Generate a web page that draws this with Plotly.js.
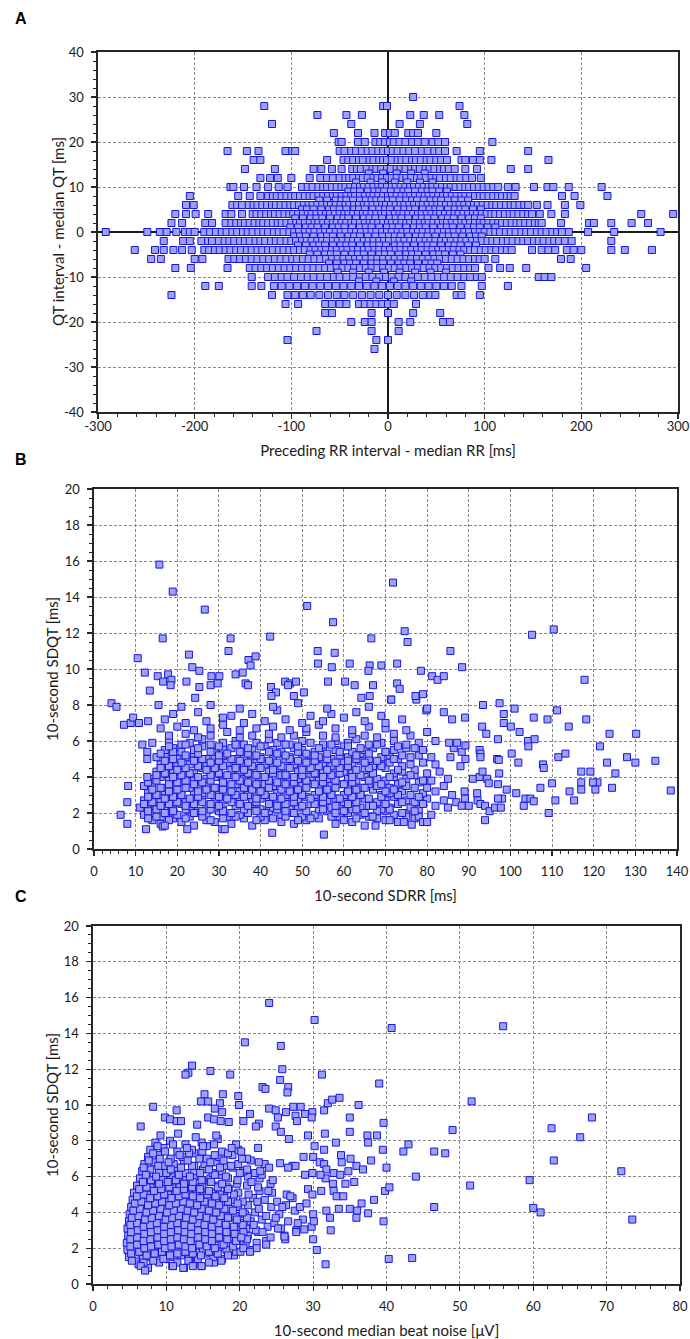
<!DOCTYPE html>
<html>
<head>
<meta charset="utf-8">
<script src="https://cdn.plot.ly/plotly-3.0.1.min.js"></script>
<style>html,body{margin:0;padding:0;background:#fff}#chart{width:690px;height:1339px}</style>
</head>
<body>
<div id="chart"></div>
<script>
// ---------- Panel A: QT deviation (rows of equal QT deviation) vs preceding RR deviation ----------
const qtLevelsA = [30,28,26,24,22,20,18,16,14,13,12,11,10,9,8,7,6,5,4,3,2,1,0,-1,-2,-3,-4,-5,-6,-7,-8,-9,-10,-11,-12,-14,-16,-18,-20,-22,-24,-26];
const rrRowsA = [
 [26],
 [-128,-5,-1,74],
 [-73,-43,-27,23,37,53,79],
 [-120,-38,12,33,82],
 [-56,-31,-14,-3,2,7,21,26,31,50],
 [-51,-48,-31,-24,-13,-8,-3,2,6,12,18,25,31,38,46,52,59,108],
 [-166,-146,-134,-106,-99,-96,-50,-45,-38,-33,-27,-21,-16,-10,-5,0,5,10,16,22,28,35,41,48,53,59,71,95,145],
 [-139,-132,-63,-46,-41,-36,-30,-26,-19,-15,-9,-5,-1,4,10,14,19,25,29,34,40,44,50,55,61,76,80,88,95,107,166],
 [-148,-117,-77,-69,-58,-48,-37,-32,-28,-22,-16,-12,-7,-1,3,9,13,18,24,28,33,39,43,48,54,58,63,69,80,92,127,145],
 [-20,-5,9,24,38],
 [-132,-122,-114,-100,-81,-70,-63,-57,-50,-44,-40,-36,-30,-26,-21,-15,-11,-6,-1,4,9,15,19,24,30,34,39,45,50,54,60,65,71,75,81,87,96],
 [-33,-18,-6,7,20,33,46],
 [-163,-160,-149,-136,-124,-113,-104,-89,-83,-78,-72,-67,-63,-58,-53,-48,-44,-39,-34,-29,-25,-20,-15,-10,-6,-1,4,8,13,18,23,27,32,37,42,46,51,56,61,65,70,75,80,84,89,94,99,104,109,114,124,132,151,165,171,187,221],
 [-41,-35,-29,-21,-14,-9,-4,3,10,16,21,28,35,41,46,53,61],
 [-205,-155,-143,-132,-124,-119,-115,-110,-105,-100,-96,-91,-86,-81,-77,-72,-67,-62,-57,-53,-48,-43,-38,-34,-29,-24,-19,-15,-10,-5,0,4,9,14,19,23,28,33,38,42,47,52,57,61,66,71,76,80,85,90,95,99,104,109,114,118,123,127,131,180,193,227],
 [-71,-63,-54,-48,-43,-36,-29,-23,-17,-12,-7,0,5,12,19,25,30,37,44,50,55,62,69,76,83],
 [-209,-201,-161,-156,-151,-144,-139,-135,-130,-125,-120,-116,-111,-106,-101,-97,-92,-87,-82,-78,-73,-68,-63,-59,-54,-49,-44,-40,-35,-30,-25,-21,-16,-11,-6,-2,3,8,13,17,22,27,32,36,41,46,51,55,60,65,70,74,79,84,89,93,98,103,108,112,117,122,127,131,136,141,145,154,165,183,199],
 [-89,-84,-77,-69,-61,-56,-50,-43,-35,-30,-24,-16,-9,-3,2,10,17,23,28,36,43,49,54,62,69,75,80,88,96],
 [-220,-209,-199,-186,-168,-162,-151,-140,-136,-131,-126,-121,-117,-112,-107,-102,-98,-93,-88,-83,-79,-74,-69,-64,-60,-55,-50,-45,-41,-36,-31,-26,-22,-17,-12,-7,-3,2,7,12,16,21,26,31,35,40,45,50,54,59,64,69,73,78,83,88,92,97,102,107,111,116,121,126,130,135,140,145,149,157,169,183,262,295],
 [-96,-88,-80,-74,-68,-60,-52,-46,-41,-33,-25,-19,-13,-6,2,8,14,21,29,35,41,48,56,62,68,76,84,90,96],
 [-224,-213,-189,-182,-168,-162,-157,-152,-148,-143,-138,-133,-129,-124,-119,-114,-110,-105,-100,-95,-91,-86,-81,-76,-72,-67,-62,-57,-53,-48,-43,-38,-34,-29,-24,-19,-15,-10,-5,0,4,9,14,19,23,28,33,38,42,47,52,57,61,66,71,76,80,85,90,95,99,104,109,114,118,123,128,133,137,142,147,152,156,159,179,208,213,231,252,269],
 [-101,-93,-85,-79,-73,-65,-57,-51,-45,-37,-29,-23,-17,-9,-1,5,11,19,27,33,39,47,55,61,67,75,83,89,95,103,111],
 [-292,-249,-236,-229,-219,-210,-205,-200,-190,-184,-178,-172,-167,-161,-156,-150,-145,-140,-134,-129,-124,-118,-113,-108,-102,-97,-92,-86,-81,-76,-70,-65,-60,-54,-49,-44,-38,-33,-28,-22,-17,-12,-6,-1,4,10,15,20,26,31,36,42,47,52,58,63,68,74,79,84,90,95,100,106,111,116,122,127,132,138,143,148,154,159,164,170,175,180,187,207,234,282],
 [-97,-91,-85,-77,-69,-63,-57,-49,-41,-35,-29,-21,-13,-6,1,7,13,21,29,35,41,49,57,63,69,77,85,91,97],
 [-232,-212,-205,-193,-186,-182,-175,-169,-164,-159,-153,-148,-143,-137,-132,-127,-121,-116,-111,-105,-100,-95,-89,-84,-79,-73,-68,-63,-57,-52,-47,-41,-36,-31,-25,-20,-15,-9,-4,1,7,12,17,23,28,33,39,44,49,55,60,65,71,76,81,87,92,97,103,108,113,119,124,129,135,140,145,151,156,161,167,172,177,183,190,231],
 [-93,-85,-77,-71,-65,-57,-49,-43,-37,-29,-21,-15,-9,-2,7,13,19,27,35,41,47,55,63,69,75,83,91],
 [-262,-241,-232,-222,-213,-203,-190,-185,-179,-174,-168,-163,-157,-152,-146,-141,-135,-130,-124,-119,-113,-108,-102,-97,-91,-86,-80,-75,-69,-64,-58,-53,-47,-42,-36,-31,-25,-20,-14,-9,-3,2,8,13,19,24,30,35,41,46,52,57,63,68,74,79,85,90,96,101,107,112,118,123,128,149,159,166,173,185,192,200,231,245,273],
 [-81,-73,-65,-59,-53,-45,-37,-31,-25,-17,-9,-3,3,11,19,25,31,39,47,53,59,67,75],
 [-245,-235,-200,-192,-165,-159,-153,-147,-141,-135,-129,-123,-117,-111,-105,-99,-94,-88,-82,-76,-70,-64,-58,-52,-46,-40,-34,-29,-23,-17,-11,-5,1,7,13,19,24,30,36,42,48,54,60,66,72,78,84,90,95,100,111,179,189],
 [-61,-53,-45,-39,-33,-25,-17,-11,-5,3,11,17,23,31,39,45,51],
 [-220,-204,-166,-143,-137,-131,-125,-119,-113,-107,-101,-95,-89,-83,-77,-71,-65,-59,-53,-47,-41,-35,-29,-23,-17,-11,-5,1,7,13,19,25,31,37,43,49,55,61,67,73,79,85,90,104,116,126,143,205],
 [-52,-36,-20,-4,12,28,44,60],
 [-141,-124,-117,-110,-104,-97,-90,-83,-77,-70,-63,-56,-50,-43,-36,-29,-23,-16,-9,-2,4,11,18,25,31,38,45,52,58,65,72,79,85,92,97,156,162,169],
 [-30,-12,6,24],
 [-189,-175,-141,-131,-118,-110,-102,-94,-86,-78,-70,-62,-54,-46,-38,-30,-22,-14,-6,2,10,18,26,34,42,50,58,66,76,97,124],
 [-224,-120,-104,-96,-88,-80,-71,-62,-53,-45,-36,-27,-18,-9,0,9,18,27,36,44,49,71,76,95],
 [-106,-93,-65,-58,-50,-43,-30,-24,-18,-12,-6,0,6,29],
 [-65,-58,-17,0,26,54],
 [-38,-24,-17,11,23,57,64],
 [-74,-17,11],
 [-104,-12,0],
 [-14]
];
const rrTicksA = [-300,-200,-100,0,100,200,300];
const rrTickTextA = ['-300','-200','-100','0','100','200','300'];
const qtTicksA = [-40,-30,-20,-10,0,10,20,30,40];
const qtTickTextA = ['-40','-30','-20','-10','0','10','20','30','40'];

// ---------- Panel B: 10-second SDQT vs 10-second SDRR ----------
const sdrrB = [
 14,16,19,21,24,27,29,33,36,38,41,45,48,51,54,58,62,65,70,73,77,
 12,14,16,18,20,23,25,27,30,32,35,37,40,42,45,47,50,53,56,59,61,64,67,70,72,75,78,81,
 11,13,15,17,19,21,23,25,27,29,31,34,36,38,40,43,45,47,49,52,54,57,59,62,64,66,69,71,73,76,78,82,85,
 12,14,16,18,20,22,24,26,29,31,33,35,38,40,42,44,46,49,51,53,56,58,60,63,65,68,70,72,75,77,80,84,87,
 13,15,17,19,21,24,26,28,30,32,35,37,39,41,44,46,48,50,53,55,57,60,62,64,67,69,71,74,76,79,82,86,
 12,14,17,19,21,23,25,27,30,32,34,36,38,41,43,45,47,50,52,54,57,59,61,64,66,68,71,73,75,78,80,84,
 14,16,18,20,22,24,27,29,31,33,36,38,40,42,45,47,49,52,54,56,58,61,63,65,68,70,72,75,77,81,85,
 15,17,19,21,24,26,28,30,33,35,37,39,42,44,46,49,51,53,55,58,60,62,65,67,70,72,74,77,80,83,
 16,18,20,23,25,27,29,32,34,36,39,41,43,46,48,50,52,55,57,60,62,64,67,69,71,74,76,79,82,
 15,17,20,22,24,27,29,31,34,36,38,40,43,45,47,50,52,54,57,59,61,64,66,69,71,73,76,78,81,
 17,19,21,24,26,29,31,33,36,38,41,43,45,48,50,53,55,58,60,62,65,67,70,72,75,79,
 14,18,21,23,26,28,31,34,36,39,42,44,47,50,52,55,58,61,63,66,69,72,75,78,82,
 18,22,25,28,32,35,38,42,45,48,51,55,58,62,65,68,72,76,80,
 16,20,24,28,31,35,39,43,47,51,54,58,62,66,70,75,
 13,17,22,27,31,36,41,46,50,55,60,65,70,74,
 19,25,33,38,44,52,57,63,69,
 21,28,35,43,49,56,66,
 13,15,18,22,26,28,31,34,39,43,46,49,52,57,60,63,66,68,71,75,
 13,15,17,19,22,24,26,28,31,33,36,39,41,44,46,48,51,55,58,60,63,65,68,71,74,77,
 12,14,16,18,20,22,24,26,28,30,33,35,37,39,42,44,46,48,50,53,55,58,61,63,67,70,74,79,
 13,15,17,19,21,23,25,28,30,32,34,36,39,41,43,45,48,50,52,55,57,59,62,64,66,69,73,78,
 14,16,18,20,22,25,27,29,31,33,36,38,40,42,45,47,49,51,54,56,58,61,63,65,70,72,77,
 13,15,18,20,22,24,26,28,31,33,35,37,39,42,44,46,48,51,53,55,58,60,62,66,69,74,79,
 15,17,19,21,23,25,28,30,32,34,37,39,41,43,46,48,50,53,55,57,59,62,64,67,71,76,
 16,18,20,22,25,27,29,31,34,36,38,40,43,45,47,50,52,54,56,59,61,63,66,69,73,
 17,19,21,24,26,28,30,33,35,37,40,42,44,47,49,51,53,56,58,61,63,65,68,72,
 16,19,22,25,28,30,32,35,37,39,42,44,46,49,51,53,56,59,63,66,70,74,
 18,22,25,30,34,37,40,46,49,54,57,61,64,68,73,77,
 15.7,18.9,26.6,16.5,32.8,42.3,51.2,57.4,66.6,71.8,
 10.5,22.8,32.3,23.6,25.3,37.1,37.6,38.8,53.7,57.8,
 53.8,57.1,61.4,66.2,65.9,69,12.2,15.3,17.8,16.6,
 18.6,18.4,13.4,22.2,25.3,24.3,28.2,30.1,28,29.7,
 34,35.7,36.4,37,42.5,43.7,42.6,45.9,47.1,48.5,
 46.6,48,50.4,56.2,60.3,62.6,67,64.2,66.2,71.3,
 4.2,5.4,15.5,7.2,8.8,9.4,10.8,11.6,12.8,12.8,
 8.2,8,6.4,8,12.5,12.8,55.2,42.8,30.8,31.4,
 22.4,16.5,17,67.6,66.9,74.4,76.3,79,80,74.6,
 75.3,85.6,72.8,78.5,81.2,82.5,84,88.4,105.2,110.4,
 117.8,72.8,73.4,77.4,79,77.2,71.4,79.8,80,84,
 86,89.1,93.4,97.4,98.4,98.4,101,100.1,102.2,105.6,
 108.9,111.2,114,118.2,93.2,94.2,97,104.2,105.8,104.3,
 100.3,101.9,111.5,113.2,107.8,108,117,119.2,117,120.9,
 119.8,121.5,123.8,125.2,128,130,130.2,134.8,123.2,124.4,
 120.4,138.5,117,114.2,115.3,107.2,110,110.8,109.2,103.2,
 103.6,104.8,105.6,101.4,99.1,91,92.6,93.3,94.4,94.8,
 97,97.3,92,92.1,92.8,93.9,95,96.3,97.7,98,
 97,93.9,89,89.1,90,88.3,85.6,86.4,88,89.2,
 88.3,89.2,92.6,92.8,92.8,96.8,97.2,85.3,87.2
];
const sdqtB = [
 1.6,1.4,1.7,1.5,1.3,1.6,1.5,1.4,1.7,1.3,1.6,1.5,1.4,1.6,1.7,1.4,1.5,1.3,1.6,1.5,1.7,
 1.9,2.0,1.8,2.1,1.9,1.8,2.0,1.9,2.1,1.8,1.9,2.0,1.8,2.1,1.9,2.0,1.8,1.9,2.1,1.8,2.0,1.9,1.8,2.1,1.9,2.0,1.8,1.9,
 2.3,2.2,2.4,2.3,2.2,2.5,2.3,2.1,2.4,2.3,2.2,2.4,2.3,2.5,2.2,2.3,2.4,2.2,2.3,2.5,2.2,2.3,2.4,2.2,2.3,2.4,2.2,2.3,2.5,2.3,2.2,2.4,2.3,
 2.7,2.8,2.6,2.7,2.9,2.6,2.7,2.8,2.6,2.7,2.9,2.7,2.6,2.8,2.7,2.6,2.8,2.7,2.9,2.6,2.7,2.8,2.6,2.7,2.8,2.6,2.7,2.9,2.7,2.6,2.8,2.7,2.6,
 3.1,3.0,3.2,3.1,3.0,3.2,3.1,3.3,3.0,3.1,3.2,3.0,3.1,3.3,3.1,3.0,3.2,3.1,3.0,3.2,3.1,3.0,3.2,3.1,3.3,3.0,3.1,3.2,3.0,3.1,3.2,3.0,
 3.5,3.6,3.4,3.5,3.7,3.4,3.5,3.6,3.4,3.5,3.6,3.5,3.4,3.6,3.5,3.7,3.4,3.5,3.6,3.4,3.5,3.6,3.5,3.4,3.6,3.5,3.4,3.6,3.5,3.7,3.4,3.5,
 3.9,4.0,3.8,3.9,4.1,3.8,3.9,4.0,3.8,4.1,3.9,3.8,4.0,3.9,4.1,3.8,3.9,4.0,3.8,3.9,4.1,3.9,3.8,4.0,3.9,3.8,4.0,3.9,4.1,3.8,3.9,
 4.3,4.2,4.4,4.3,4.2,4.5,4.3,4.2,4.4,4.3,4.2,4.4,4.3,4.5,4.2,4.3,4.4,4.2,4.3,4.4,4.3,4.2,4.4,4.3,4.5,4.2,4.3,4.4,4.2,4.3,
 4.7,4.8,4.6,4.7,4.9,4.6,4.7,4.8,4.6,4.7,4.8,4.7,4.6,4.9,4.7,4.6,4.8,4.7,4.6,4.8,4.7,4.9,4.6,4.7,4.8,4.6,4.7,4.8,4.7,
 5.1,5.2,5.0,5.1,5.3,5.0,5.1,5.2,5.0,5.1,5.2,5.1,5.0,5.3,5.1,5.0,5.2,5.1,5.0,5.2,5.1,5.3,5.0,5.1,5.2,5.0,5.1,5.2,5.1,
 5.5,5.6,5.4,5.5,5.7,5.4,5.5,5.6,5.4,5.5,5.7,5.5,5.4,5.6,5.5,5.4,5.6,5.5,5.7,5.4,5.5,5.6,5.4,5.5,5.6,5.5,
 5.9,6.0,5.8,5.9,6.1,5.8,5.9,6.0,5.8,5.9,6.1,5.9,5.8,6.0,5.9,5.8,6.0,5.9,6.1,5.8,5.9,6.0,5.8,5.9,6.0,
 6.3,6.4,6.2,6.3,6.5,6.2,6.3,6.4,6.2,6.3,6.5,6.3,6.2,6.4,6.3,6.2,6.4,6.3,6.5,
 6.7,6.8,6.6,6.7,6.9,6.6,6.7,6.8,6.6,6.7,6.9,6.7,6.6,6.8,6.7,6.6,
 7.1,7.2,7.0,7.1,7.3,7.0,7.1,7.2,7.0,7.1,7.3,7.1,7.0,7.2,
 7.5,7.6,7.4,7.5,7.7,7.4,7.5,7.6,7.4,
 7.9,8.0,7.8,7.9,8.1,7.8,7.9,
 1.7,1.8,1.6,1.7,1.8,1.6,1.7,1.8,1.6,1.7,1.8,1.6,1.7,1.8,1.6,1.7,1.8,1.7,1.6,1.8,
 2.1,2.2,2.0,2.1,2.2,2.0,2.1,2.2,2.1,2.0,2.2,2.1,2.0,2.2,2.1,2.0,2.1,2.2,2.0,2.1,2.2,2.0,2.1,2.2,2.0,2.1,
 2.5,2.6,2.4,2.5,2.6,2.4,2.5,2.6,2.5,2.4,2.6,2.5,2.4,2.6,2.5,2.4,2.5,2.6,2.4,2.5,2.6,2.4,2.5,2.6,2.4,2.5,2.6,2.5,
 2.9,3.0,2.8,2.9,3.0,2.8,2.9,3.0,2.9,2.8,3.0,2.9,2.8,3.0,2.9,2.8,2.9,3.0,2.8,2.9,3.0,2.8,2.9,3.0,2.8,2.9,3.0,2.9,
 3.3,3.4,3.2,3.3,3.4,3.2,3.3,3.4,3.3,3.2,3.4,3.3,3.2,3.4,3.3,3.2,3.3,3.4,3.2,3.3,3.4,3.2,3.3,3.4,3.2,3.3,3.4,
 3.7,3.8,3.6,3.7,3.8,3.6,3.7,3.8,3.7,3.6,3.8,3.7,3.6,3.8,3.7,3.6,3.7,3.8,3.6,3.7,3.8,3.6,3.7,3.8,3.6,3.7,3.8,
 4.1,4.2,4.0,4.1,4.2,4.0,4.1,4.2,4.1,4.0,4.2,4.1,4.0,4.2,4.1,4.0,4.1,4.2,4.0,4.1,4.2,4.0,4.1,4.2,4.0,4.1,
 4.5,4.6,4.4,4.5,4.6,4.4,4.5,4.6,4.5,4.4,4.6,4.5,4.4,4.6,4.5,4.4,4.5,4.6,4.4,4.5,4.6,4.4,4.5,4.6,4.4,
 4.9,5.0,4.8,4.9,5.0,4.8,4.9,5.0,4.9,4.8,5.0,4.9,4.8,5.0,4.9,4.8,4.9,5.0,4.8,4.9,5.0,4.8,4.9,5.0,
 5.3,5.4,5.2,5.3,5.4,5.2,5.3,5.4,5.3,5.2,5.4,5.3,5.2,5.4,5.3,5.2,5.3,5.4,5.2,5.3,5.4,5.2,
 5.7,5.8,5.6,5.7,5.8,5.6,5.7,5.8,5.7,5.6,5.8,5.7,5.6,5.8,5.7,5.6,
 15.8,14.3,13.3,11.7,11.7,11.8,13.5,12.6,11.7,14.8,
 10.6,10.8,11.0,10.1,9.9,10.5,10.2,10.7,11.0,10.9,
 10.3,10.1,10.3,10.2,9.9,10.2,9.8,9.6,9.7,9.3,
 9.4,9.1,8.8,9.3,9.0,8.4,9.6,9.6,9.1,9.2,
 9.7,9.8,9.2,9.1,9.0,8.7,8.5,9.3,9.2,9.3,
 9.1,8.5,8.7,9.3,9.3,9.1,9.1,8.4,8.5,8.3,
 8.1,7.9,8.0,6.9,7.0,7.3,7.0,5.8,5.4,5.0,
 3.5,2.6,1.9,1.4,1.1,4.0,0.8,0.9,1.1,1.1,
 1.1,1.25,1.3,1.3,1.8,1.5,1.35,1.5,1.5,12.1,
 11.5,11.0,10.3,9.9,9.6,9.4,9.6,10.1,11.9,12.2,
 9.4,9.2,8.9,8.3,8.6,8.5,8.3,7.7,7.8,7.6,
 7.2,7.3,8.0,8.1,7.5,7.0,7.8,6.8,6.5,7.3,
 7.2,7.7,6.8,7.2,6.8,6.4,6.1,6.0,6.1,5.7,
 5.3,4.8,5.1,5.3,4.7,4.5,4.3,4.3,3.7,3.7,
 3.7,5.7,6.4,4.2,5.1,4.8,6.4,4.9,4.8,3.4,
 3.3,3.25,3.3,3.2,2.7,3.4,3.65,2.7,2.0,2.4,
 2.8,2.8,2.65,3.1,3.3,3.9,4.0,4.3,3.9,3.65,
 3.6,4.2,3.1,2.7,2.5,2.4,2.1,2.3,2.3,2.8,
 2.8,1.6,3.2,2.8,2.4,2.4,5.1,5.6,4.6,5.0,
 5.4,5.75,5.5,5.3,5.1,5.0,4.95,5.9,5.9
];

// ---------- Panel C: 10-second SDQT vs 10-second median beat noise ----------
const noiseC = [
 6.2,7.5,9,10.8,12.4,13.7,14.8,16.5,
 4.9,5.8,6.8,7.9,8.9,9.9,11,12,13.1,14.2,15.3,16.4,17.6,19.2,
 4.7,5.6,6.5,7.4,8.4,9.3,10.2,11.2,12.1,13,14,15,16,17.1,18.2,19.5,21.4,
 4.6,5.5,6.4,7.3,8.2,9.1,10,10.9,11.8,12.8,13.7,14.6,15.6,16.5,17.5,18.5,19.6,20.8,22.3,23.6,
 4.8,5.7,6.6,7.5,8.4,9.3,10.2,11.1,12,13,13.9,14.8,15.8,16.7,17.7,18.8,19.9,21.1,22.5,24.2,26.1,
 4.7,5.6,6.5,7.4,8.3,9.2,10.1,11,12,12.9,13.8,14.7,15.7,16.6,17.6,18.6,19.7,20.9,22.2,23.8,25.6,27.7,
 4.9,5.8,6.7,7.6,8.5,9.4,10.3,11.2,12.1,13.1,14,14.9,15.9,16.9,17.9,19,20.2,21.5,23,24.7,26.6,28.6,
 5,5.9,6.8,7.7,8.6,9.5,10.4,11.3,12.3,13.2,14.1,15.1,16.1,17.1,18.2,19.4,20.7,22.1,23.6,25.4,27.5,30,
 5.2,6.1,7,7.9,8.8,9.7,10.6,11.5,12.5,13.4,14.4,15.4,16.4,17.5,18.6,19.8,21.1,22.6,24.3,26.3,28.2,
 5.4,6.3,7.2,8.1,9,9.9,10.9,11.8,12.8,13.7,14.7,15.7,16.8,17.9,19.1,20.4,21.8,23.4,25.1,27.2,
 5.6,6.5,7.4,8.3,9.3,10.2,11.2,12.1,13.1,14.1,15.1,16.2,17.3,18.5,19.8,21.2,22.7,24.4,26.4,
 6,6.9,7.9,8.8,9.8,10.8,11.8,12.8,13.8,14.9,16,17.1,18.3,19.6,21,22.5,24.2,
 6.4,7.4,8.5,9.5,10.6,11.6,12.7,13.8,14.9,16,17.2,18.4,19.7,21.1,22.7,24.5,
 6.7,7.8,9,10.2,11.4,12.6,13.8,15,16.3,17.6,19,20.5,22.1,
 7,8.3,9.6,11,12.4,13.8,15.2,16.7,18.2,19.8,21.5,23.4,
 7.5,9,10.6,12.2,13.8,15.5,17.2,19,21,
 7.8,9.6,11.5,13.5,15.5,17.6,19.8,22.5,
 8.5,10.5,12.6,14.8,17,19.5,
 9.2,11.6,14,16.8,
 5.3,6.9,8.2,9.6,11.5,13,14.3,15.8,17.5,
 5.2,6.3,7.3,8.4,9.4,10.5,11.5,12.6,13.6,14.7,15.8,17,18.4,20.1,
 5.1,6,7,7.9,8.9,9.8,10.7,11.7,12.6,13.5,14.5,15.5,16.6,17.8,19.1,20.5,
 5.1,6,6.9,7.8,8.8,9.7,10.6,11.5,12.4,13.3,14.3,15.3,16.2,17.2,18.3,19.5,21,
 5.2,6.1,7,7.9,8.8,9.7,10.6,11.6,12.5,13.4,14.3,15.3,16.2,17.2,18.2,19.3,20.5,
 5.1,6,6.9,7.8,8.7,9.7,10.6,11.5,12.5,13.4,14.3,15.2,16.2,17.1,18.1,19.2,20.4,
 5.3,6.2,7.1,8,9,9.9,10.8,11.7,12.7,13.6,14.5,15.5,16.4,17.4,18.4,19.6,21,
 5.5,6.4,7.3,8.2,9.2,10.1,11,12,12.9,13.8,14.8,15.8,16.8,17.9,19.1,20.4,
 5.7,6.6,7.5,8.5,9.4,10.4,11.3,12.3,13.2,14.2,15.2,16.2,17.2,18.4,19.7,
 6,6.9,7.8,8.8,9.7,10.7,11.7,12.6,13.6,14.6,15.6,16.7,17.9,19.2,
 6.3,7.3,8.3,9.3,10.4,11.4,12.4,13.5,14.6,15.8,17,18.4,
 6.8,7.9,9,10.2,11.3,12.4,13.6,14.8,16.1,17.6,
 7.2,8.6,10,11.7,13.2,14.6,16.6,18.1,20,23,
 6.9,8.9,10.6,12,13.5,15.8,17.3,18.8,21,24,
 7.6,9.1,10.3,12.9,14.5,16,17.8,20.3,22.6,
 8.2,9.8,11.8,13.1,14.9,16.6,18.4,20.2,
 8.8,10.9,12.8,15,16.5,18.9,
 20.2,21.9,23.1,24.9,22.4,25.8,21.6,23.9,26.9,22.8,25.2,27.9,
 24,30.2,40.7,55.9,20.7,25.6,25.8,25.5,31.2,39,
 13.5,13,12.6,16,18.7,23.1,23.5,26.6,26.5,15.2,
 14.7,15.7,17.3,17.7,16.6,17.6,19.8,19.9,8.2,11.4,
 6.5,9.8,10.5,11.4,12,14.2,15.7,16.5,17.4,18.5,
 20.5,21.4,22.6,22.2,24,24.9,25.2,26.3,27.3,28.3,
 29.9,27.6,27.8,28.9,29.8,31.5,32,32.6,33.6,36.2,
 35,39.6,24.9,25.6,26.7,29.3,31.6,33.1,35,37.4,
 37.5,38.7,39.5,40,30.2,31.5,33.8,35.1,28.7,30,
 30.9,31.5,33.9,35.9,36.8,37.9,31.8,32.8,33.7,34.8,
 35.6,31.7,32.7,34.4,32.8,33.2,34.1,31.1,29.3,29.9,
 29.1,36.6,35,36,35.9,37.5,38.3,39.6,39.8,40.4,
 31.8,33.5,32.3,32.4,30,30.5,40.3,31.7,26.2,26.1,
 27.7,28.8,29.8,30.1,22.3,21.4,23.6,31,29.9,28.9,
 27.2,27.6,26.6,25.5,51.6,49,46.5,48,43,42.3,
 51.4,46.5,44,43.5,59.5,60,61,62.5,62.8,66.4,
 68,72,73.5,6.5,7.1,10.9,12.3,13.6,14.8
];
const sdqtC = [
 1.1,0.9,1.2,1.0,0.9,1.1,1.0,1.2,
 1.5,1.6,1.4,1.5,1.7,1.4,1.5,1.6,1.4,1.5,1.7,1.5,1.4,1.6,
 1.9,2.0,1.8,1.9,2.1,1.8,1.9,2.0,1.8,1.9,2.1,1.9,1.8,2.0,1.9,1.8,1.9,
 2.3,2.2,2.4,2.3,2.2,2.5,2.3,2.2,2.4,2.3,2.2,2.4,2.3,2.5,2.2,2.3,2.4,2.2,2.3,2.4,
 2.7,2.8,2.6,2.7,2.9,2.6,2.7,2.8,2.6,2.7,2.9,2.7,2.6,2.8,2.7,2.6,2.8,2.7,2.9,2.6,2.7,
 3.1,3.0,3.2,3.1,3.0,3.2,3.1,3.3,3.0,3.1,3.2,3.0,3.1,3.3,3.1,3.0,3.2,3.1,3.0,3.2,3.1,3.0,
 3.5,3.6,3.4,3.5,3.7,3.4,3.5,3.6,3.4,3.5,3.6,3.5,3.4,3.6,3.5,3.7,3.4,3.5,3.6,3.4,3.5,3.6,
 3.9,4.0,3.8,3.9,4.1,3.8,3.9,4.0,3.8,4.1,3.9,3.8,4.0,3.9,4.1,3.8,3.9,4.0,3.8,3.9,4.1,3.9,
 4.3,4.2,4.4,4.3,4.2,4.5,4.3,4.2,4.4,4.3,4.2,4.4,4.3,4.5,4.2,4.3,4.4,4.2,4.3,4.4,4.3,
 4.7,4.8,4.6,4.7,4.9,4.6,4.7,4.8,4.6,4.7,4.8,4.7,4.6,4.9,4.7,4.6,4.8,4.7,4.6,4.8,
 5.1,5.2,5.0,5.1,5.3,5.0,5.1,5.2,5.0,5.1,5.2,5.1,5.0,5.3,5.1,5.0,5.2,5.1,5.0,
 5.5,5.6,5.4,5.5,5.7,5.4,5.5,5.6,5.4,5.5,5.7,5.5,5.4,5.6,5.5,5.4,5.6,
 5.9,6.0,5.8,5.9,6.1,5.8,5.9,6.0,5.8,5.9,6.1,5.9,5.8,6.0,5.9,5.8,
 6.3,6.4,6.2,6.3,6.5,6.2,6.3,6.4,6.2,6.3,6.5,6.3,6.2,
 6.7,6.8,6.6,6.7,6.9,6.6,6.7,6.8,6.6,6.7,6.9,6.7,
 7.1,7.2,7.0,7.1,7.3,7.0,7.1,7.2,7.0,
 7.5,7.6,7.4,7.5,7.7,7.4,7.5,7.6,
 7.9,8.0,7.8,7.9,8.1,7.8,
 8.3,8.4,8.2,8.3,
 1.3,1.2,1.3,1.4,1.2,1.3,1.4,1.2,1.3,
 1.7,1.8,1.6,1.7,1.8,1.6,1.7,1.8,1.7,1.6,1.8,1.7,1.6,1.8,
 2.1,2.2,2.0,2.1,2.2,2.0,2.1,2.2,2.1,2.0,2.2,2.1,2.0,2.2,2.1,2.0,
 2.5,2.6,2.4,2.5,2.6,2.4,2.5,2.6,2.5,2.4,2.6,2.5,2.4,2.6,2.5,2.4,2.5,
 2.9,3.0,2.8,2.9,3.0,2.8,2.9,3.0,2.9,2.8,3.0,2.9,2.8,3.0,2.9,2.8,2.9,
 3.3,3.4,3.2,3.3,3.4,3.2,3.3,3.4,3.3,3.2,3.4,3.3,3.2,3.4,3.3,3.2,3.3,
 3.7,3.8,3.6,3.7,3.8,3.6,3.7,3.8,3.7,3.6,3.8,3.7,3.6,3.8,3.7,3.6,3.7,
 4.1,4.2,4.0,4.1,4.2,4.0,4.1,4.2,4.1,4.0,4.2,4.1,4.0,4.2,4.1,4.0,
 4.5,4.6,4.4,4.5,4.6,4.4,4.5,4.6,4.5,4.4,4.6,4.5,4.4,4.6,4.5,
 4.9,5.0,4.8,4.9,5.0,4.8,4.9,5.0,4.9,4.8,5.0,4.9,4.8,5.0,
 5.3,5.4,5.2,5.3,5.4,5.2,5.3,5.4,5.3,5.2,5.4,5.3,
 5.7,5.8,5.6,5.7,5.8,5.6,5.7,5.8,5.7,5.6,
 6.1,6.0,6.2,6.1,6.0,6.2,6.1,6.0,6.2,6.1,
 6.5,6.6,6.4,6.5,6.6,6.4,6.5,6.6,6.4,6.5,
 6.9,7.0,6.8,6.9,7.0,6.8,6.9,7.0,6.8,
 7.3,7.4,7.2,7.3,7.4,7.2,7.3,7.4,
 7.7,7.8,7.6,7.7,7.8,7.6,
 2.6,3.3,2.9,3.7,4.6,4.3,5.7,5.2,4.9,6.3,3.1,3.4,
 15.7,14.75,14.3,14.4,13.5,13.3,12.0,11.4,11.7,11.2,
 12.2,11.8,11.7,11.9,11.7,11.0,10.9,11.0,10.7,10.6,
 10.2,10.2,10.1,10.6,9.8,9.6,10.5,10.0,9.9,9.7,
 8.8,9.3,9.2,9.1,9.1,8.9,9.3,9.2,9.1,9.05,
 9.1,9.5,8.96,8.8,9.8,9.7,9.3,9.6,9.9,9.9,
 9.6,9.4,9.1,9.5,9.3,9.7,10.1,10.3,10.4,10.0,
 9.3,9.0,8.8,8.5,8.1,8.3,8.4,7.9,8.5,8.3,
 7.9,8.3,7.5,6.5,7.7,7.5,7.2,7.0,7.1,7.1,
 6.8,6.7,6.8,6.6,6.4,6.9,6.4,6.2,6.1,6.3,
 5.7,5.9,5.6,5.6,5.2,4.9,4.9,5.2,5.3,5.0,
 4.5,4.5,4.2,4.1,3.7,3.95,4.7,3.5,5.2,5.4,
 4.1,4.2,3.7,3.0,2.5,1.9,1.4,1.1,2.5,2.65,
 2.9,3.05,3.2,3.5,2.0,1.8,2.2,6.1,6.2,6.1,
 6.6,6.6,6.5,6.75,10.2,8.6,7.4,7.3,7.8,7.4,
 5.5,4.3,6.0,1.45,5.8,4.25,4.0,8.7,6.9,8.2,
 9.3,6.3,3.6,1.0,0.75,1.0,0.9,1.0,1.0
];

// ---------- build ----------
const xA = [], yA = [];
qtLevelsA.forEach((q, i) => rrRowsA[i].forEach(r => { xA.push(r); yA.push(q); }));

const FONT = 'Lato, "Open Sans", "DejaVu Sans", sans-serif';
const marker = {symbol: 'square', size: 7, color: 'rgb(158,160,244)', line: {color: 'rgb(22,22,228)', width: 1}};

const traces = [
  {type: 'scatter', mode: 'markers', x: xA, y: yA, xaxis: 'x', yaxis: 'y', marker: marker, hoverinfo: 'skip'},
  {type: 'scatter', mode: 'markers', x: sdrrB, y: sdqtB, xaxis: 'x2', yaxis: 'y2', marker: marker, hoverinfo: 'skip'},
  {type: 'scatter', mode: 'markers', x: noiseC, y: sdqtC, xaxis: 'x3', yaxis: 'y3', marker: marker, hoverinfo: 'skip'}
];

function ax(o) {
  return Object.assign({
    showline: true, linecolor: '#262626', linewidth: 1.6, mirror: true,
    ticks: 'outside', ticklen: 5, tickwidth: 1.2, tickcolor: '#262626',
    showgrid: true, gridcolor: '#8a8a8a', gridwidth: 1, griddash: '3px,2px',
    zeroline: false, fixedrange: true,
    tickfont: {family: FONT, size: 13, color: '#1a1a1a'},
  }, o);
}
function minor(d) {
  return {ticks: 'outside', ticklen: 3, tickwidth: 1, tickcolor: '#262626', dtick: d, tick0: 0, showgrid: false};
}
const titleFont = {family: FONT, size: 15, color: '#1a1a1a'};
const H = 1339, W = 690;
const letterFont = {family: 'Liberation Sans, Arial, sans-serif', size: 16, color: '#000'};
function yTitle(text, xpx, ypx) {
  return {text: text, x: xpx / W, y: 1 - ypx / H, xref: 'paper', yref: 'paper', xanchor: 'center', yanchor: 'middle',
    textangle: -90, showarrow: false, font: titleFont};
}

const layout = {
  width: W, height: H, margin: {l: 0, r: 0, t: 0, b: 0},
  paper_bgcolor: '#fff', plot_bgcolor: '#fff', showlegend: false,
  font: {family: FONT},
  xaxis: ax({domain: [98/W, 678/W], range: [-300, 300], tickmode: 'array', tickvals: rrTicksA, ticktext: rrTickTextA, anchor: 'y',
    zeroline: true, zerolinecolor: '#1a1a1a', zerolinewidth: 1.6,
    minor: minor(20), ticklabelstandoff: -3,
    title: {text: 'Preceding RR interval - median RR [ms]', font: titleFont, standoff: 12}}),
  yaxis: ax({domain: [1 - 412/H, 1 - 52/H], range: [-40, 40], tickmode: 'array', tickvals: qtTicksA, ticktext: qtTickTextA, anchor: 'x',
    zeroline: true, zerolinecolor: '#1a1a1a', zerolinewidth: 1.6,
    minor: minor(2), ticklabelstandoff: 5}),
  xaxis2: ax({domain: [94/W, 677/W], range: [0, 140], dtick: 10, tick0: 0, anchor: 'y2',
    minor: minor(2), ticklabelstandoff: 5,
    title: {text: '10-second SDRR [ms]', font: titleFont, standoff: 12}}),
  yaxis2: ax({domain: [1 - 849/H, 1 - 489/H], range: [0, 20], dtick: 2, tick0: 0, anchor: 'x2',
    minor: minor(0.5), ticklabelstandoff: 5}),
  xaxis3: ax({domain: [93/W, 680/W], range: [0, 80], dtick: 10, tick0: 0, anchor: 'y3',
    minor: minor(2), ticklabelstandoff: 5,
    title: {text: '10-second median beat noise [μV]', font: titleFont, standoff: 12}}),
  yaxis3: ax({domain: [1 - 1284/H, 1 - 926/H], range: [0, 20], dtick: 2, tick0: 0, anchor: 'x3',
    minor: minor(0.5), ticklabelstandoff: 5}),
  annotations: [
    {text: '<b>A</b>', x: 13/W, y: 1 - 18.5/H, xref: 'paper', yref: 'paper', xanchor: 'left', yanchor: 'middle', showarrow: false, font: letterFont},
    {text: '<b>B</b>', x: 13/W, y: 1 - 459/H, xref: 'paper', yref: 'paper', xanchor: 'left', yanchor: 'middle', showarrow: false, font: letterFont},
    {text: '<b>C</b>', x: 13/W, y: 1 - 896/H, xref: 'paper', yref: 'paper', xanchor: 'left', yanchor: 'middle', showarrow: false, font: letterFont},
    yTitle('QT interval - median QT [ms]', 58, 232),
    yTitle('10-second SDQT [ms]', 52, 669),
    yTitle('10-second SDQT [ms]', 52, 1105)
  ]
};

Plotly.newPlot('chart', traces, layout, {displayModeBar: false, staticPlot: true});
</script>
</body>
</html>
